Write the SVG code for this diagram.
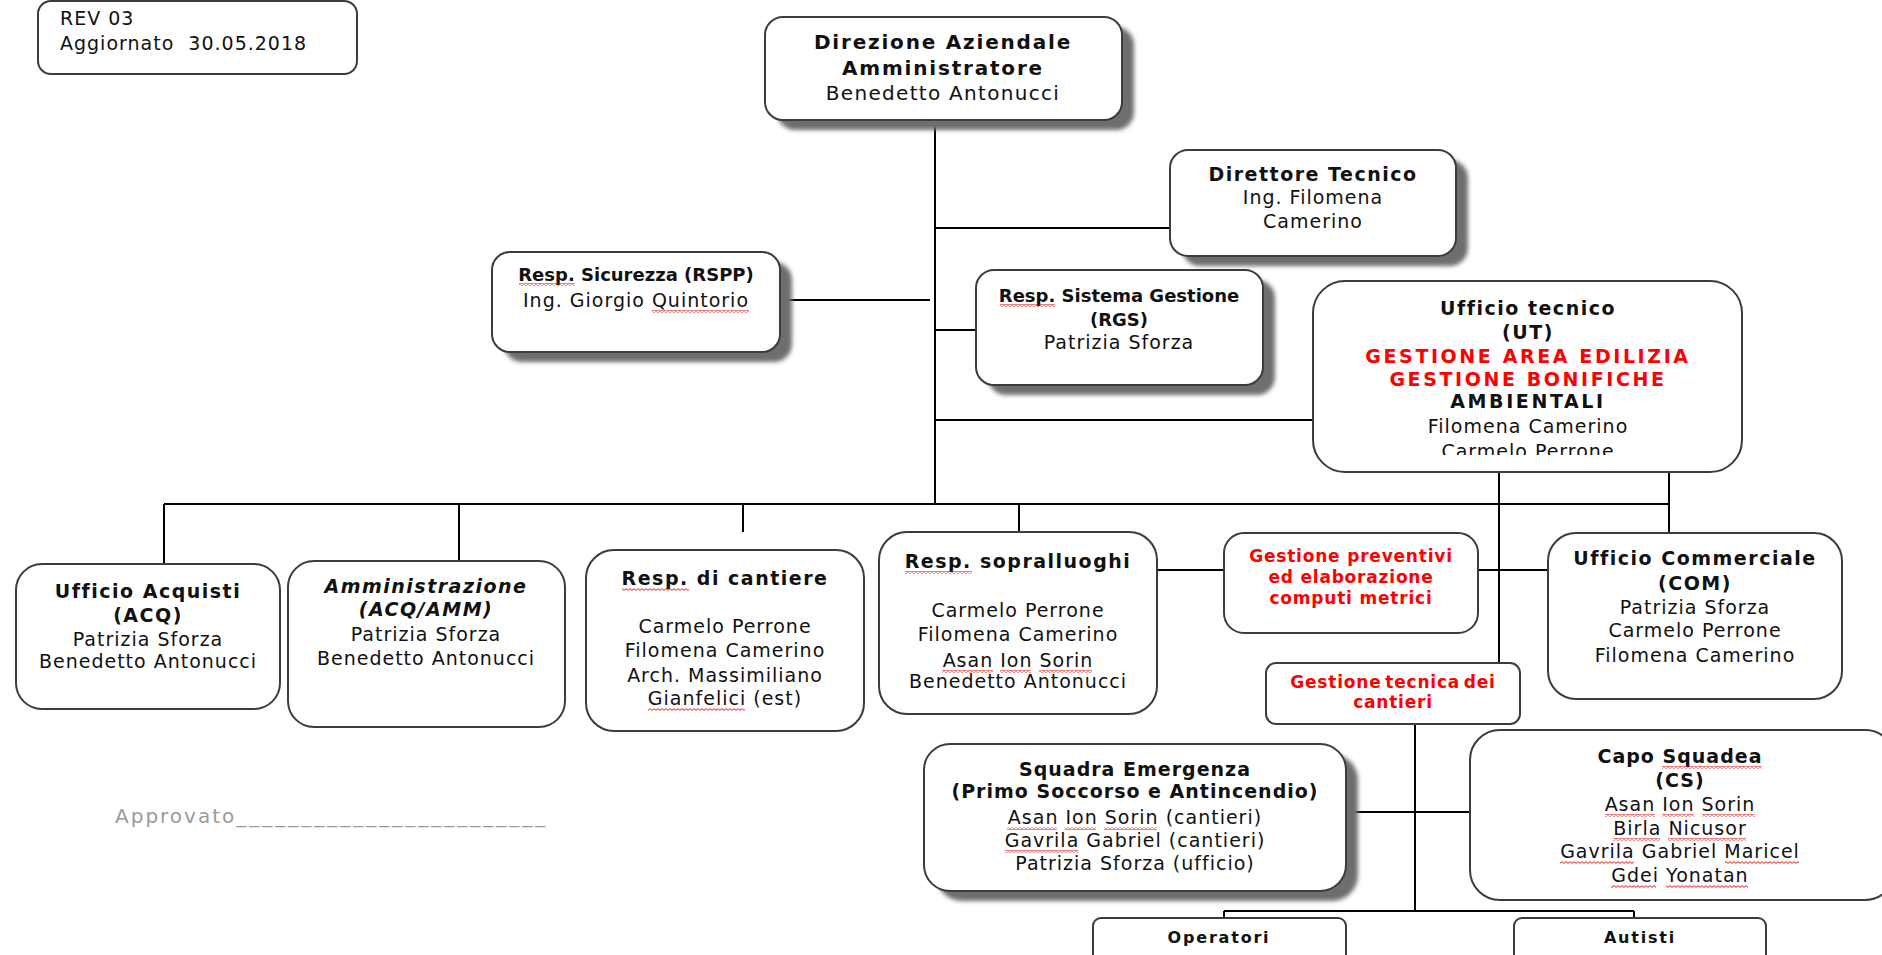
<svg xmlns="http://www.w3.org/2000/svg" width="1882" height="955" viewBox="0 0 1882 955">
<style>
.box{fill:#fff;stroke:#3c3c3c;stroke-width:2}
.sh{fill:#6e6e6e;filter:url(#sb)}
.ln{fill:none;stroke:#000;stroke-width:2}
.t{font-family:"DejaVu Sans",Verdana,sans-serif;font-size:19px;letter-spacing:1px;text-anchor:middle;fill:#111}
.b{font-weight:bold;letter-spacing:1.5px}
.c{font-weight:bold;font-size:18px;letter-spacing:0}
.i{font-style:italic}
.red{fill:#ff0000}
.s17{font-size:17px;letter-spacing:0.8px}
.pre{white-space:pre;text-anchor:start}
.wv{fill:url(#wave)}
</style>
<defs>
<filter id="sb" x="-10%" y="-10%" width="120%" height="130%"><feGaussianBlur stdDeviation="2"/></filter>
<clipPath id="utclip"><rect x="1313" y="281" width="430" height="174"/></clipPath>
<pattern id="wave" patternUnits="userSpaceOnUse" width="4" height="3"><path d="M0 2.4L2 0.6L4 2.4" fill="none" stroke="#e00000" stroke-width="0.9"/></pattern>
</defs>
<rect width="1882" height="955" fill="#fff"/>

<g id="connectors">
<path class="ln" d="M935 120V504M935 228H1170M780 300H930M935 330H976M935 420H1313"/>
<path class="ln" d="M164 504H1669M164 504V564M459 504V561M743 504V532M1019 504V532M1669 472V533M1499 472V663"/>
<path class="ln" d="M1158 570H1224M1478 570H1548"/>
<path class="ln" d="M1415 724V911M1346 812H1470M1224 911H1634M1224 911V918M1634 911V918"/>
</g>

<g id="rev">
<rect class="box" x="38" y="1" width="319" height="73" rx="13" stroke-width="1.6"/>
<text class="t pre" x="60" y="25">REV 03</text>
<text class="t pre" x="60" y="50">Aggiornato  30.05.2018</text>
</g>

<g id="direzione">
<rect class="sh" x="777" y="27" width="357" height="103" rx="18"/>
<rect class="box" x="765" y="17" width="357" height="103" rx="18"/>
<text class="t b" x="943" y="49" style="font-size:20px;letter-spacing:1.8px">Direzione Aziendale</text>
<text class="t b" x="943" y="75" style="font-size:20px;letter-spacing:1.8px">Amministratore</text>
<text class="t" x="943" y="100" style="font-size:20px;letter-spacing:1.3px">Benedetto Antonucci</text>
</g>

<g id="direttore">
<rect class="sh" x="1182" y="160" width="286" height="106" rx="18"/>
<rect class="box" x="1170" y="150" width="286" height="106" rx="18"/>
<text class="t b" x="1313" y="181">Direttore Tecnico</text>
<text class="t" x="1313" y="204">Ing. Filomena</text>
<text class="t" x="1313" y="228">Camerino</text>
</g>

<g id="rspp">
<rect class="sh" x="504" y="262" width="288" height="100" rx="18"/>
<rect class="box" x="492" y="252" width="288" height="100" rx="18"/>
<text class="t c" x="636" y="281">Resp. Sicurezza (RSPP)</text>
<text class="t" x="636" y="307">Ing. Giorgio Quintorio</text>
<rect class="wv" x="519" y="283" width="56" height="3"/>
<rect class="wv" x="652" y="310" width="97" height="3"/>
</g>

<g id="rgs">
<rect class="sh" x="988" y="280" width="287" height="115" rx="18"/>
<rect class="box" x="976" y="270" width="287" height="115" rx="18"/>
<text class="t c" x="1119" y="302">Resp. Sistema Gestione</text>
<text class="t c" x="1119" y="326">(RGS)</text>
<text class="t" x="1119" y="349">Patrizia Sforza</text>
<rect class="wv" x="1000" y="304" width="55" height="3"/>
</g>

<g id="ufficio-tecnico">
<rect class="box" x="1313" y="281" width="429" height="191" rx="32"/>
<text class="t b" x="1528" y="315">Ufficio tecnico</text>
<text class="t b" x="1528" y="339">(UT)</text>
<text class="t b red" x="1528" y="363" style="letter-spacing:2.6px">GESTIONE AREA EDILIZIA</text>
<text class="t b red" x="1528" y="386" style="letter-spacing:2.6px">GESTIONE BONIFICHE</text>
<text class="t b" x="1528" y="408" style="letter-spacing:2.6px">AMBIENTALI</text>
<text class="t" x="1528" y="433">Filomena Camerino</text>
<text class="t" x="1528" y="458" clip-path="url(#utclip)">Carmelo Perrone</text>
</g>

<g id="acquisti">
<rect class="box" x="16" y="564" width="264" height="145" rx="26"/>
<text class="t b" x="148" y="598">Ufficio Acquisti</text>
<text class="t b" x="148" y="622">(ACQ)</text>
<text class="t" x="148" y="646">Patrizia Sforza</text>
<text class="t" x="148" y="668">Benedetto Antonucci</text>
</g>

<g id="amministrazione">
<rect class="box" x="288" y="561" width="277" height="166" rx="26"/>
<text class="t b i" x="426" y="593">Amministrazione</text>
<text class="t b i" x="426" y="616">(ACQ/AMM)</text>
<text class="t" x="426" y="641">Patrizia Sforza</text>
<text class="t" x="426" y="665">Benedetto Antonucci</text>
</g>

<g id="cantiere">
<rect class="box" x="586" y="550" width="278" height="181" rx="28"/>
<text class="t b" x="725" y="585">Resp. di cantiere</text>
<text class="t" x="725" y="633">Carmelo Perrone</text>
<text class="t" x="725" y="657">Filomena Camerino</text>
<text class="t" x="725" y="682">Arch. Massimiliano</text>
<text class="t" x="725" y="705">Gianfelici (est)</text>
<rect class="wv" x="622" y="588" width="67" height="3"/>
<rect class="wv" x="648" y="708" width="97" height="3"/>
</g>

<g id="sopralluoghi">
<rect class="box" x="879" y="532" width="278" height="182" rx="28"/>
<text class="t b" x="1018" y="568">Resp. sopralluoghi</text>
<text class="t" x="1018" y="617">Carmelo Perrone</text>
<text class="t" x="1018" y="641">Filomena Camerino</text>
<text class="t" x="1018" y="667">Asan Ion Sorin</text>
<text class="t" x="1018" y="688">Benedetto Antonucci</text>
<rect class="wv" x="905" y="571" width="67" height="3"/>
<rect class="wv" x="942" y="670" width="51" height="3"/>
<rect class="wv" x="1000" y="670" width="31" height="3"/>
<rect class="wv" x="1039" y="670" width="53" height="3"/>
</g>

<g id="preventivi">
<rect class="box" x="1224" y="533" width="254" height="100" rx="20"/>
<text class="t b red s17" x="1351" y="562">Gestione preventivi</text>
<text class="t b red s17" x="1351" y="583">ed elaborazione</text>
<text class="t b red s17" x="1351" y="604">computi metrici</text>
</g>

<g id="commerciale">
<rect class="box" x="1548" y="533" width="294" height="166" rx="28"/>
<text class="t b" x="1695" y="565">Ufficio Commerciale</text>
<text class="t b" x="1695" y="590">(COM)</text>
<text class="t" x="1695" y="614">Patrizia Sforza</text>
<text class="t" x="1695" y="637">Carmelo Perrone</text>
<text class="t" x="1695" y="662">Filomena Camerino</text>
</g>

<g id="gestione-tecnica">
<rect class="box" x="1266" y="663" width="254" height="61" rx="10"/>
<text class="t b red s17" x="1393" y="688" style="word-spacing:-3px">Gestione tecnica dei</text>
<text class="t b red s17" x="1393" y="708">cantieri</text>
</g>

<g id="squadra">
<rect class="sh" x="936" y="754" width="422" height="147" rx="26"/>
<rect class="box" x="924" y="744" width="422" height="147" rx="26"/>
<text class="t b" x="1135" y="776" style="letter-spacing:1px">Squadra Emergenza</text>
<text class="t b" x="1135" y="798" style="letter-spacing:1px">(Primo Soccorso e Antincendio)</text>
<text class="t" x="1135" y="824">Asan Ion Sorin (cantieri)</text>
<text class="t" x="1135" y="847">Gavrila Gabriel (cantieri)</text>
<text class="t" x="1135" y="870">Patrizia Sforza (ufficio)</text>
<rect class="wv" x="1007" y="827" width="50" height="3"/>
<rect class="wv" x="1065" y="827" width="31" height="3"/>
<rect class="wv" x="1104" y="827" width="53" height="3"/>
<rect class="wv" x="1005" y="850" width="73" height="3"/>
</g>

<g id="capo-squadra">
<rect class="box" x="1470" y="730" width="425" height="170" rx="30"/>
<text class="t b" x="1680" y="763" style="letter-spacing:1px">Capo Squadea</text>
<text class="t b" x="1680" y="787" style="letter-spacing:1px">(CS)</text>
<text class="t" x="1680" y="811">Asan Ion Sorin</text>
<text class="t" x="1680" y="835">Birla Nicusor</text>
<text class="t" x="1680" y="858">Gavrila Gabriel Maricel</text>
<text class="t" x="1680" y="882">Gdei Yonatan</text>
<rect class="wv" x="1662" y="766" width="100" height="3"/>
<rect class="wv" x="1605" y="814" width="50" height="3"/>
<rect class="wv" x="1662" y="814" width="32" height="3"/>
<rect class="wv" x="1702" y="814" width="53" height="3"/>
<rect class="wv" x="1613" y="838" width="47" height="3"/>
<rect class="wv" x="1668" y="838" width="78" height="3"/>
<rect class="wv" x="1560" y="861" width="74" height="3"/>
<rect class="wv" x="1725" y="861" width="74" height="3"/>
<rect class="wv" x="1611" y="885" width="45" height="3"/>
<rect class="wv" x="1666" y="885" width="82" height="3"/>
</g>

<g id="operatori">
<rect class="box" x="1093" y="918" width="253" height="50" rx="8"/>
<text class="t b" x="1219" y="943" style="font-size:16px;letter-spacing:1.8px">Operatori</text>
</g>

<g id="autisti">
<rect class="box" x="1514" y="918" width="252" height="50" rx="8"/>
<text class="t b" x="1640" y="943" style="font-size:16px;letter-spacing:1.8px">Autisti</text>
</g>

<g id="approvato">
<text class="t pre" x="115" y="823" style="fill:#9a9a9a;font-size:20px;letter-spacing:2px">Approvato<tspan style="letter-spacing:3px">________________________</tspan></text>
</g>
</svg>
